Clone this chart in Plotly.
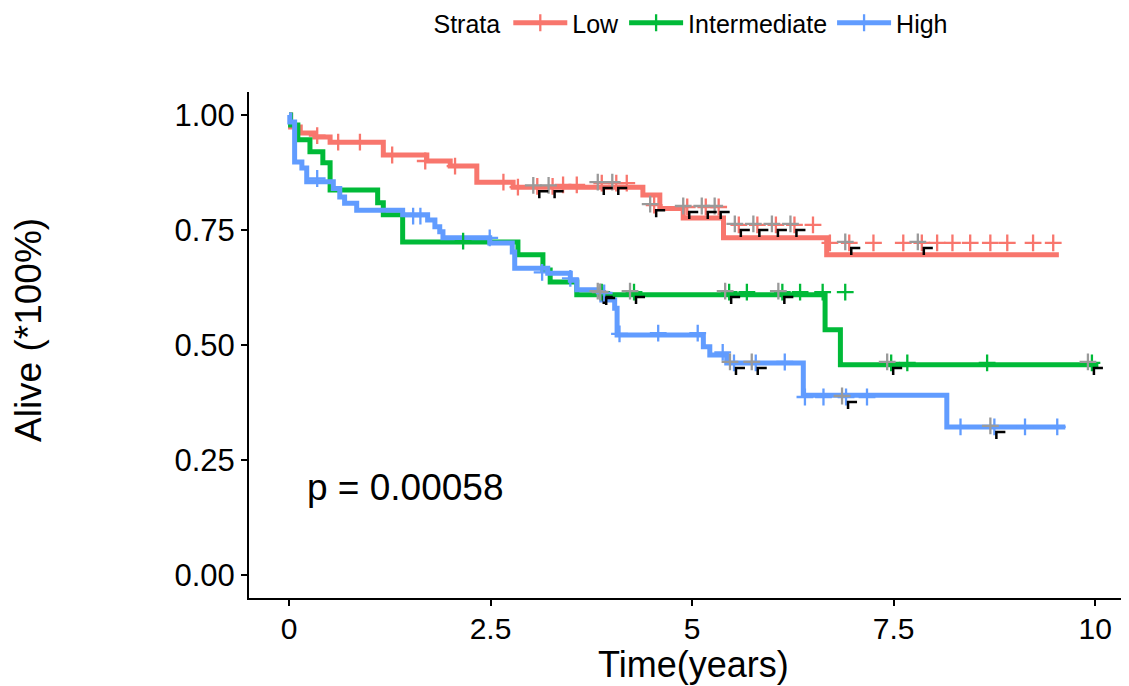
import plotly.graph_objects as go

# ---------------- data ----------------
strata = ["Low", "Intermediate", "High"]
colors = ["#F8766D", "#00BA38", "#619CFF"]

low_t = [0, 0.02, 0.14, 0.32, 0.51, 1.17, 1.71, 2.00, 2.33, 2.78, 4.39, 4.60, 4.89, 5.39, 6.67, 9.55]
low_s = [1.0, 0.974, 0.961, 0.952, 0.941, 0.913, 0.900, 0.889, 0.854, 0.843, 0.826, 0.797, 0.776, 0.733, 0.696, 0.696]
low_cens_t = [0.35, 0.61, 0.88, 1.28, 1.69, 2.06, 2.66, 2.84, 3.08, 3.27, 3.40, 3.57, 3.88, 4.06, 4.19,
              4.53, 4.94, 5.17, 5.33, 5.58, 5.81, 6.04, 6.27, 6.50,
              6.71, 6.95, 7.25, 7.62, 7.85, 8.04, 8.23, 8.45, 8.70, 8.91, 9.23, 9.48]
low_cens_s = [0.955, 0.941, 0.941, 0.913, 0.900, 0.889, 0.854, 0.843, 0.845, 0.845, 0.848, 0.848, 0.852, 0.852, 0.852,
              0.804, 0.800, 0.800, 0.800, 0.761, 0.761, 0.761, 0.761, 0.761,
              0.722, 0.722, 0.722, 0.722, 0.722, 0.722, 0.722, 0.722, 0.722, 0.722, 0.722, 0.722]
low_dup = [0, 0, 0, 0, 0, 0, 0, 0, 1, 1, 0, 0, 1, 1, 0,
           1, 1, 1, 1, 1, 1, 1, 1, 0,
           0, 1, 0, 0, 1, 0, 0, 0, 0, 0, 0, 0]

int_t = [0, 0.02, 0.11, 0.26, 0.42, 0.51, 1.10, 1.17, 1.41, 2.84, 3.15, 3.24, 3.57, 6.65, 6.84, 10.04]
int_s = [1.0, 0.978, 0.946, 0.920, 0.896, 0.837, 0.809, 0.783, 0.724, 0.696, 0.663, 0.637, 0.609, 0.533, 0.457, 0.457]
int_cens_t = [2.16, 3.88, 4.28, 5.46, 5.68, 6.12, 6.34, 6.62, 6.90, 7.47, 7.67, 8.66, 9.96]
int_cens_s = [0.726, 0.615, 0.615, 0.615, 0.615, 0.615, 0.615, 0.615, 0.615, 0.461, 0.461, 0.461, 0.461]
int_dup = [0, 1, 1, 1, 0, 1, 0, 0, 0, 1, 0, 0, 1]

high_t = [0, 0.01, 0.07, 0.16, 0.22, 0.55, 0.63, 0.69, 0.84, 1.41, 1.72, 1.81, 1.87, 1.91, 2.49, 2.77, 2.80,
          3.21, 3.49, 3.57, 3.88, 4.04, 4.07, 5.14, 5.22, 5.43, 6.38, 8.16, 9.63]
high_s = [1.0, 0.985, 0.898, 0.885, 0.855, 0.840, 0.822, 0.808, 0.793, 0.783, 0.772, 0.757, 0.746, 0.733, 0.722,
          0.702, 0.667, 0.656, 0.641, 0.620, 0.598, 0.580, 0.522, 0.496, 0.478, 0.461, 0.391, 0.322, 0.322]
high_cens_t = [0.35, 1.54, 1.63, 2.49, 3.14, 3.49, 3.91, 4.10, 4.58, 5.07, 5.38, 5.52, 5.79, 6.15,
               6.40, 6.63, 6.91, 7.17, 8.33, 8.75, 9.13, 9.53]
high_cens_s = [0.862, 0.780, 0.780, 0.733, 0.658, 0.645, 0.613, 0.524, 0.526, 0.526, 0.484, 0.461, 0.461, 0.463,
               0.387, 0.387, 0.387, 0.387, 0.322, 0.322, 0.322, 0.322]
high_dup = [0, 0, 0, 0, 0, 0, 1, 0, 0, 0, 0, 1, 1, 0,
            0, 0, 1, 0, 0, 1, 0, 0]

x_ticks = [0, 2.5, 5, 7.5, 10]
x_ticklabels = ["0", "2.5", "5", "7.5", "10"]
y_ticks = [0, 0.25, 0.5, 0.75, 1.0]
y_ticklabels = ["0.00", "0.25", "0.50", "0.75", "1.00"]
p_text = "p = 0.00058"

# ---------------- layout geometry (page coords, body margin 8px) ----------------
OFF = 8
W, H = 1129 - OFF, 686 - OFF
plot_left, plot_top, plot_bottom = 249, 92, 598      # page pixels
ml, mr, mt = plot_left - OFF, 0, plot_top - OFF
mb = H - (plot_bottom - OFF)
pw, ph = W - ml - mr, H - mt - mb
xr = [-0.496, 10.42]
yr = [-0.05, 1.05]
ux = (xr[1] - xr[0]) / pw
uy = (yr[1] - yr[0]) / ph

def px_paper_x(px):
    return (px - plot_left) / pw

def px_paper_y(py):
    return (plot_bottom - py) / ph

FONT = "Arial, Liberation Sans, sans-serif"
LW = 5
fig = go.Figure()

series = [
    (low_t, low_s, low_cens_t, low_cens_s, low_dup),
    (int_t, int_s, int_cens_t, int_cens_s, int_dup),
    (high_t, high_s, high_cens_t, high_cens_s, high_dup),
]

for name, col, (t, s, ct, cs, dup) in zip(strata, colors, series):
    fig.add_trace(go.Scatter(x=t, y=s, mode="lines", line=dict(color=col, width=LW, shape="hv"),
                             showlegend=False, hoverinfo="skip"))
for name, col, (t, s, ct, cs, dup) in zip(strata, colors, series):
    fig.add_trace(go.Scatter(x=ct, y=cs, mode="markers",
                             marker=dict(symbol="cross-thin", size=12, line=dict(color=col, width=2.3)),
                             showlegend=False, hoverinfo="skip"))
    gx = [a - 4 * ux for a, d in zip(ct, dup) if d]
    gy = [b + 1 * uy for b, d in zip(cs, dup) if d]
    fig.add_trace(go.Scatter(x=gx, y=gy, mode="markers",
                             marker=dict(symbol="cross-thin", size=12, line=dict(color="#9a9a9a", width=2.3)),
                             showlegend=False, hoverinfo="skip"))
    bx, by = [], []
    for a, b, d in zip(ct, cs, dup):
        if d:
            bx += [a + 11 * ux, a + 2 * ux, a + 2 * ux, None]
            by += [b - 5 * uy, b - 5 * uy, b - 12 * uy, None]
    fig.add_trace(go.Scatter(x=bx, y=by, mode="lines", line=dict(color="black", width=2.5),
                             showlegend=False, hoverinfo="skip"))

for name, col in zip(strata, colors):
    fig.add_trace(go.Scatter(x=[None], y=[None], mode="lines+markers", name=name,
                             line=dict(color=col, width=LW),
                             marker=dict(symbol="cross-thin", size=12, line=dict(color=col, width=2.3))))

fig.add_annotation(x=0.2, y=0.19, xref="x", yref="y", text=p_text, showarrow=False,
                   xanchor="left", yanchor="middle", font=dict(family=FONT, size=37, color="black"))
fig.add_annotation(x=px_paper_x(693), y=px_paper_y(664), xref="paper", yref="paper",
                   text="Time(years)", showarrow=False, xanchor="center", yanchor="middle",
                   font=dict(family=FONT, size=36, color="black"))
fig.add_annotation(x=px_paper_x(28), y=px_paper_y(330), xref="paper", yref="paper",
                   text="Alive (*100%)", showarrow=False, textangle=-90, xanchor="center", yanchor="middle",
                   font=dict(family=FONT, size=37, color="black"))

fig.update_layout(
    width=W, height=H,
    margin=dict(l=ml, r=mr, t=mt, b=mb, autoexpand=False),
    paper_bgcolor="white", plot_bgcolor="white",
    font=dict(family=FONT, color="black"),
    legend=dict(orientation="h", x=px_paper_x(692), xanchor="center", y=px_paper_y(23), yanchor="middle",
                title=dict(text="Strata", font=dict(size=25)), font=dict(size=25),
                itemwidth=54, tracegroupgap=0),
)
fig.update_xaxes(range=xr, tickvals=x_ticks, ticktext=x_ticklabels, showgrid=False, zeroline=False,
                 showline=True, linecolor="black", linewidth=2, ticks="outside", ticklen=6, tickwidth=2,
                 tickcolor="black", tickfont=dict(size=30, family=FONT, color="black"),
                 ticklabelstandoff=-3)
fig.update_yaxes(range=yr, tickvals=y_ticks, ticktext=y_ticklabels, showgrid=False, zeroline=False,
                 showline=True, linecolor="black", linewidth=2, ticks="outside", ticklen=6, tickwidth=2,
                 tickcolor="black", tickfont=dict(size=31, family=FONT, color="black"))

fig.write_html("out.html")
